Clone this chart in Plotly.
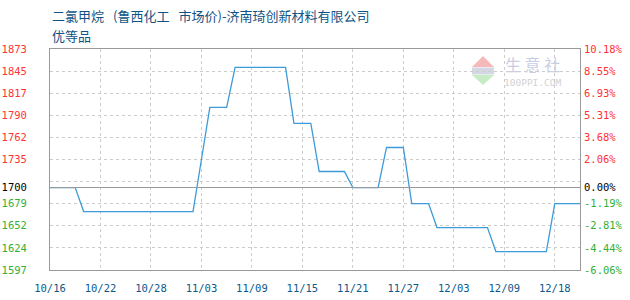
import plotly.graph_objects as go

# ---------------- data ----------------
dates = [
    "10/16", "10/17", "10/18", "10/19", "10/20", "10/21", "10/22", "10/23",
    "10/24", "10/25", "10/26", "10/27", "10/28", "10/29", "10/30", "10/31",
    "11/01", "11/02", "11/03", "11/04", "11/05", "11/06", "11/07", "11/08",
    "11/09", "11/10", "11/11", "11/12", "11/13", "11/14", "11/15", "11/16",
    "11/17", "11/18", "11/19", "11/20", "11/21", "11/22", "11/23", "11/24",
    "11/25", "11/26", "11/27", "11/28", "11/29", "11/30", "12/01", "12/02",
    "12/03", "12/04", "12/05", "12/06", "12/07", "12/08", "12/09", "12/10",
    "12/11", "12/15", "12/16", "12/17", "12/18", "12/19", "12/20", "12/21",
]
prices = [
    1700, 1700, 1700, 1700, 1670, 1670, 1670, 1670,
    1670, 1670, 1670, 1670, 1670, 1670, 1670, 1670,
    1670, 1670, 1735, 1800, 1800, 1800, 1850, 1850,
    1850, 1850, 1850, 1850, 1850, 1780, 1780, 1780,
    1720, 1720, 1720, 1720, 1700, 1700, 1700, 1700,
    1750, 1750, 1750, 1680, 1680, 1680, 1650, 1650,
    1650, 1650, 1650, 1650, 1650, 1620, 1620, 1620,
    1620, 1620, 1620, 1620, 1680, 1680, 1680, 1680,
]
x_tick_labels = ["10/16", "10/22", "10/28", "11/03", "11/09", "11/15",
                 "11/21", "11/27", "12/03", "12/09", "12/18"]
base_price = 1700
y_min, y_max = 1597, 1873
left_labels = ["1597", "1624", "1652", "1679", "", "1735",
               "1762", "1790", "1817", "1845", "1873"]
right_labels = ["-6.06%", "-4.44%", "-2.81%", "-1.19%", "", "2.06%",
                "3.68%", "5.31%", "6.93%", "8.55%", "10.18%"]
base_left_label = "1700"
base_right_label = "0.00%"
title_line1 = "二氯甲烷\u2002\u2009(鲁西化工\u2002\u2009市场价)-济南琦创新材料有限公司"
title_line2 = "优等品"

# ---------------- styling ----------------
RED = "#ff3333"
GREEN = "#33b033"
BLACK = "#000000"
LINE = "#3d9bd8"
FRAME = "#999999"
GRID = "#cccccc"
TITLE = "#0f5384"
XLAB = "#0b5a8c"
TICKFONT = "DejaVu Sans Mono, Liberation Mono, monospace"

n_grid = len(left_labels)
step = (y_max - y_min) / (n_grid - 1)
grid_vals = [y_min + step * k for k in range(n_grid)]


def colored(txt, val):
    if txt == "":
        return ""
    c = RED if val > base_price else GREEN
    return f"<span style='color:{c}'>{txt}</span>"


left_text = [colored(t, v) for t, v in zip(left_labels, grid_vals)]
right_text = [colored(t, v) for t, v in zip(right_labels, grid_vals)]
tickvals = grid_vals + [base_price]
left_text += [f"<span style='color:{BLACK}'>{base_left_label}</span>"]
right_text += [f"<span style='color:{BLACK}'>{base_right_label}</span>"]

fig = go.Figure()
fig.add_trace(go.Scatter(
    x=dates, y=prices, mode="lines",
    line=dict(color=LINE, width=1.3),
    hoverinfo="skip", showlegend=False,
))
fig.add_trace(go.Scatter(
    x=dates, y=prices, mode="lines", yaxis="y2",
    line=dict(color="rgba(0,0,0,0)", width=0),
    hoverinfo="skip", showlegend=False,
))

# baseline at 1700
fig.add_shape(type="line", xref="paper", x0=0, x1=1, yref="y",
              y0=base_price, y1=base_price,
              line=dict(color=FRAME, width=1), layer="above")


def px2paper_x(px):
    return (px - 50) / 530


def px2paper_y(py):
    return (270 - py) / 221


# watermark logo
def tri(xa, xb, ybase, yapex):
    xm = (xa + xb) / 2
    return (f"M {px2paper_x(xa)} {px2paper_y(ybase)} L {px2paper_x(xb)} {px2paper_y(ybase)} "
            f"L {px2paper_x(xm)} {px2paper_y(yapex)} Z")


fig.add_shape(type="path", xref="paper", yref="paper", path=tri(472, 494, 67, 56),
              fillcolor="#f6b9b9", line=dict(width=0), layer="below")
fig.add_shape(type="path", xref="paper", yref="paper", path=tri(472, 494, 75, 85),
              fillcolor="#c6ecc6", line=dict(width=0), layer="below")
fig.add_shape(type="rect", xref="paper", yref="paper",
              x0=px2paper_x(472), x1=px2paper_x(494), y0=px2paper_y(74.5), y1=px2paper_y(67.5),
              fillcolor="#d4d8e4", line=dict(width=0), layer="below")

annotations = [
    dict(text=title_line1, xref="paper", yref="paper", x=0, y=px2paper_y(15),
         xanchor="left", yanchor="middle", showarrow=False,
         font=dict(family="Noto Sans CJK SC", size=13, color=TITLE)),
    dict(text=title_line2, xref="paper", yref="paper", x=0, y=px2paper_y(35),
         xanchor="left", yanchor="middle", showarrow=False,
         font=dict(family="Noto Sans CJK SC", size=13, color=TITLE)),
    dict(text="生 意 社", xref="paper", yref="paper", x=px2paper_x(532), y=px2paper_y(64),
         xanchor="center", yanchor="middle", showarrow=False,
         font=dict(family="Noto Sans CJK SC", size=16, color="#c9cee2")),
    dict(text="100PPI.COM", xref="paper", yref="paper", x=px2paper_x(532), y=px2paper_y(82),
         xanchor="center", yanchor="middle", showarrow=False,
         font=dict(family="DejaVu Sans Mono", size=9.5, color="#d2d2d2")),
]

fig.update_layout(
    width=630, height=300,
    margin=dict(l=50, r=50, t=49, b=30, autoexpand=False),
    paper_bgcolor="white", plot_bgcolor="white",
    showlegend=False,
    annotations=annotations,
    xaxis=dict(
        type="category", categoryorder="array", categoryarray=dates,
        range=[0, len(dates) - 1], automargin=False,
        tickmode="array", tickvals=x_tick_labels, ticktext=x_tick_labels,
        showgrid=True, gridcolor=GRID, griddash="3px,3px", gridwidth=1,
        showline=True, linecolor=FRAME, linewidth=1, mirror=True,
        ticks="", ticklabelstandoff=8,
        tickfont=dict(family=TICKFONT, size=10.5, color=XLAB),
        zeroline=False, fixedrange=True,
    ),
    yaxis=dict(
        range=[y_min, y_max], tickmode="array", tickvals=tickvals, ticktext=left_text,
        automargin=False,
        showgrid=True, gridcolor=GRID, griddash="3px,3px", gridwidth=1,
        showline=True, linecolor=FRAME, linewidth=1, mirror=True,
        ticks="", ticklabelstandoff=20,
        tickfont=dict(family=TICKFONT, size=10.5, color=BLACK),
        zeroline=False, fixedrange=True,
    ),
    yaxis2=dict(
        range=[y_min, y_max], overlaying="y", side="right", automargin=False,
        tickmode="array", tickvals=tickvals, ticktext=right_text,
        showgrid=False, showline=False, ticks="", ticklabelstandoff=3,
        tickfont=dict(family=TICKFONT, size=10.5, color=BLACK),
        zeroline=False, fixedrange=True,
    ),
)

fig.write_html("out.html", config={"displayModeBar": False})
